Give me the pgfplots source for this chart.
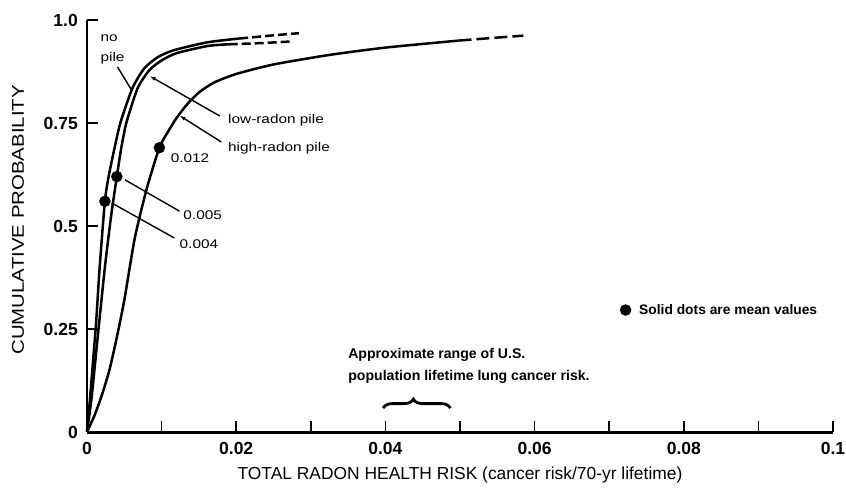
\documentclass[border=0pt]{standalone}
\usepackage{fontspec}
\setmainfont{Liberation Sans}
\newfontfamily\stretchfont[FakeStretch=1.2]{Liberation Sans}
\newfontfamily\annfont[FakeStretch=1.22]{Liberation Sans}
\usepackage{pgfplots}
\pgfplotsset{compat=1.18}
\usetikzlibrary{decorations.pathreplacing,arrows.meta}

\pgfplotstableread{
x y
0 0
0.0004 0.08
0.0008 0.17
0.0012 0.26
0.0017 0.40
0.0024 0.56
0.0029 0.62
0.0037 0.69
0.0045 0.752
0.0061 0.835
0.0077 0.883
0.0095 0.910
0.0117 0.927
0.0162 0.946
0.0204 0.955
}\nopilesolid
\pgfplotstableread{
x y
0.0204 0.955
0.0245 0.962
0.0284 0.968
}\nopiledash
\pgfplotstableread{
x y
0 0
0.0006 0.08
0.0011 0.17
0.0016 0.26
0.0024 0.40
0.0032 0.52
0.0040 0.62
0.0046 0.69
0.0053 0.752
0.0068 0.835
0.0084 0.879
0.0101 0.903
0.0121 0.920
0.0162 0.937
0.0190 0.941
}\lowsolid
\pgfplotstableread{
x y
0.0190 0.941
0.0235 0.944
0.0275 0.948
}\lowdash
\pgfplotstableread{
x y
0 0
0.0010 0.04
0.0020 0.09
0.0030 0.15
0.0040 0.23
0.0050 0.32
0.0064 0.47
0.0080 0.59
0.0097 0.69
0.0108 0.727
0.0120 0.762
0.0135 0.797
0.0150 0.824
0.0170 0.848
0.0200 0.869
0.0250 0.892
0.0324 0.915
0.0400 0.933
0.0498 0.950
}\highsolid
\pgfplotstableread{
x y
0.0498 0.950
0.0540 0.956
0.0585 0.962
}\highdash
\pgfplotstableread{
x y
0.0024 0.56
0.0040 0.62
0.0097 0.69
0.0722 0.296
}\meandots

\begin{document}
\begin{tikzpicture}
\begin{axis}[
  scale only axis, width=746bp, height=412bp,
  xmin=0, xmax=0.1, ymin=0, ymax=1,
  clip=false,
  axis lines=left,
  axis line style={-},
  x axis line style={line width=3bp},
  y axis line style={line width=1.4bp},
  xtick={0,0.02,0.04,0.06,0.08,0.1},
  xticklabels={0,0.02,0.04,0.06,0.08,0.1},
  minor xtick={0.01,0.03,0.05,0.07,0.09},
  ytick={0,0.25,0.5,0.75,1},
  yticklabels={0,0.25,0.5,0.75,1.0},
  tick align=inside,
  major tick length=11bp, minor tick length=11bp,
  every tick/.style={black, line width=1.6bp},
  /pgf/number format/assume math mode=true,
  ticklabel style={font=\fontsize{17.5bp}{20bp}\selectfont\bfseries, inner sep=0pt},
  xticklabel style={anchor=north, yshift=-10bp},
  yticklabel style={anchor=east, xshift=-9bp},
  every axis x label/.style={at={(axis description cs:0.5,0)}, yshift=-43bp, anchor=center,
    font=\fontsize{17.4bp}{20bp}\selectfont},
  every axis y label/.style={at={(axis description cs:0,0.515)}, xshift=-69bp, rotate=90, anchor=center,
    font=\fontsize{17bp}{20bp}\stretchfont},
  xlabel={TOTAL RADON HEALTH RISK (cancer risk/70-yr lifetime)},
  ylabel={CUMULATIVE PROBABILITY},
]
\coordinate (O) at (rel axis cs:0,0);
% curves
\addplot[black, line width=2.5bp, smooth, tension=0.4] table {\nopilesolid};
\addplot[black, line width=2.5bp, dash pattern=on 9bp off 4bp] table {\nopiledash};
\addplot[black, line width=2.5bp, smooth, tension=0.4] table {\lowsolid};
\addplot[black, line width=2.5bp, dash pattern=on 9bp off 4bp] table {\lowdash};
\addplot[black, line width=2.5bp, smooth, tension=0.4] table {\highsolid};
\addplot[black, line width=2.5bp, dash pattern=on 13bp off 5bp] table {\highdash};
% mean dots
\addplot[only marks, mark=*, mark size=5.5bp, black] table {\meandots};

% leader lines
\draw[line width=1.4bp] (axis cs:0.0041,0.886) -- (axis cs:0.0059,0.832);
\draw[line width=1.4bp, -{Latex[length=6bp,width=4bp]}] (axis cs:0.0178,0.767) -- (axis cs:0.0084,0.864);
\draw[line width=1.4bp, -{Latex[length=6bp,width=4bp]}] (axis cs:0.0180,0.704) -- (axis cs:0.0124,0.768);
\draw[line width=1.4bp] (axis cs:0.0051,0.612) -- (axis cs:0.0124,0.536);
\draw[line width=1.4bp] (axis cs:0.0033,0.556) -- (axis cs:0.0117,0.471);

% annotation texts
\tikzset{ann/.style={anchor=west, inner sep=0pt, font=\fontsize{12.6bp}{14bp}\annfont}}
\node[ann] at (axis cs:0.00180,0.956) {no};
\node[ann] at (axis cs:0.00180,0.908) {pile};
\node[ann] at (axis cs:0.0189,0.757) {low-radon pile};
\node[ann] at (axis cs:0.0189,0.689) {high-radon pile};
\node[ann] at (axis cs:0.0112,0.665) {0.012};
\node[ann] at (axis cs:0.0129,0.527) {0.005};
\node[ann] at (axis cs:0.0124,0.456) {0.004};

\node[anchor=west, inner sep=0pt, font=\fontsize{14.1bp}{16bp}\selectfont\bfseries] at (axis cs:0.0350,0.187) {Approximate range of U.S.};
\node[anchor=west, inner sep=0pt, font=\fontsize{14.1bp}{16bp}\selectfont\bfseries] at (axis cs:0.0350,0.133) {population lifetime lung cancer risk.};
\draw[line width=2.8bp, decorate, decoration={brace, amplitude=9bp, aspect=0.45}] (axis cs:0.0397,0.058) -- (axis cs:0.0487,0.058);

\node[anchor=west, inner sep=0pt, font=\fontsize{13.8bp}{16bp}\selectfont\bfseries] at (axis cs:0.0740,0.296) {Solid dots are mean values};
\end{axis}
\pgfresetboundingbox
\path[use as bounding box] ([shift={(-87bp,-64bp)}]O) rectangle ([shift={(759bp,432bp)}]O);
\end{tikzpicture}
\end{document}
